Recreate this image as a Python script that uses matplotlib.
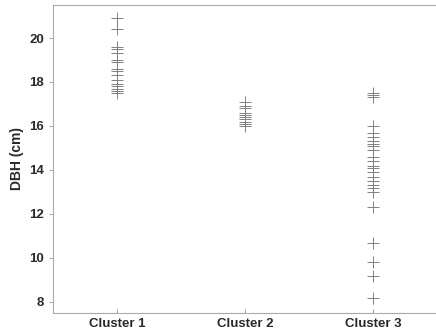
import matplotlib
matplotlib.use("Agg")
import matplotlib.pyplot as plt

plt.rcParams['font.family'] = ['Liberation Sans', 'DejaVu Sans']

# DBH measurements (cm) per cluster
clusters = ["Cluster 1", "Cluster 2", "Cluster 3"]
dbh_c1 = [20.9, 20.4, 19.6, 19.5, 19.3, 19.0, 18.9, 18.6, 18.5, 18.3,
          18.1, 17.9, 17.8, 17.7, 17.6, 17.5]
dbh_c2 = [17.1, 16.9, 16.8, 16.6, 16.5, 16.4, 16.3, 16.2, 16.1, 16.0]
dbh_c3 = [17.5, 17.4, 17.3, 16.0, 15.7, 15.5, 15.3, 15.2, 15.1, 14.9,
          14.6, 14.4, 14.2, 14.1, 13.9, 13.7, 13.5, 13.3, 13.2, 13.0,
          12.3, 10.7, 9.8, 9.2, 8.2]
yticks = [8, 10, 12, 14, 16, 18, 20]

fig = plt.figure(figsize=(4.36, 3.34), dpi=100)
ax = fig.add_axes([0.122, 0.063, 0.88, 0.922])

for i, vals in enumerate([dbh_c1, dbh_c2, dbh_c3]):
    ax.plot([i + 1] * len(vals), vals, linestyle='none', marker='+',
            markersize=9, markeredgewidth=0.7, color='#808080')

ax.set_xlim(0.5, 3.5)
ax.set_ylim(7.5, 21.5)
ax.set_xticks([1, 2, 3])
ax.set_xticklabels(clusters)
ax.set_yticks(yticks)
ax.set_ylabel("DBH (cm)", fontsize=10, fontweight='bold', color='#2a2a2a')

for lab in ax.get_xticklabels() + ax.get_yticklabels():
    lab.set_fontweight('bold')
    lab.set_color('#2a2a2a')
ax.tick_params(axis='both', labelsize=9.5, color='#aaaaaa', length=3)
ax.tick_params(axis='x', direction='in')

for side in ['left', 'top', 'bottom']:
    ax.spines[side].set_color('#aaaaaa')
    ax.spines[side].set_linewidth(0.8)
ax.spines['right'].set_visible(False)

fig.savefig("out.png", dpi=100)
